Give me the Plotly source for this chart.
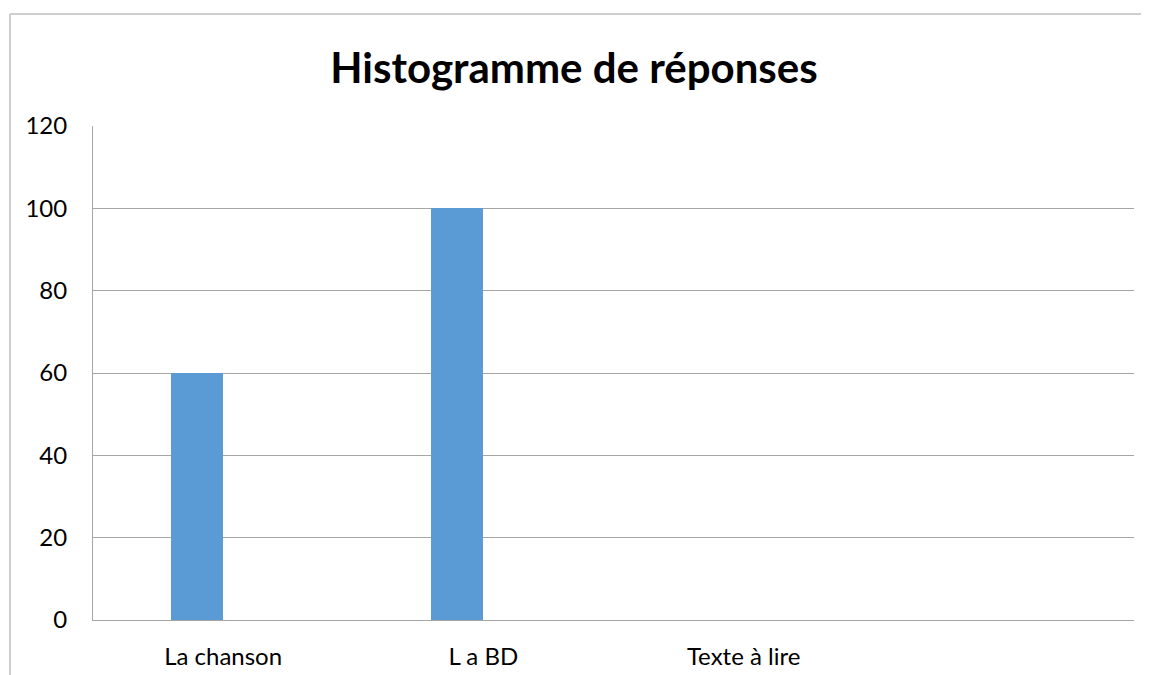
import plotly.graph_objects as go

categories = ["La chanson", "L a BD", "Texte à lire", " "]
values = [60, 100, 0, 0]
y_ticks = [0, 20, 40, 60, 80, 100, 120]

OFF = 8  # page body margin
W, H = 1149 - OFF, 675 - OFF
ml, mt = 93 - OFF, 126 - OFF
pw, ph = 1041, 494
mr = W - ml - pw
mb = H - mt - ph

def px_x(p):
    return (p - OFF - ml) / pw

def px_y(p):
    return (mt + ph - (p - OFF)) / ph

fig = go.Figure()
fig.add_trace(go.Bar(
    x=categories, y=values,
    width=0.2, offset=-0.2,
    marker=dict(color="#5B9BD5", line=dict(width=0)),
    showlegend=False,
))

border = dict(color="#BFBFBF", width=1.5)
fig.update_layout(
    width=W, height=H,
    margin=dict(l=ml, r=mr, t=mt, b=mb, autoexpand=False),
    paper_bgcolor="white", plot_bgcolor="white",
    font=dict(family="Lato", size=24, color="#000000"),
    title=dict(text="<b>Histogramme de réponses</b>", xref="container",
               x=(574 - OFF) / W, xanchor="center",
               yref="container", y=1 - (68 - OFF) / H, yanchor="middle",
               font=dict(family="Lato", size=42, color="#000000")),
    xaxis=dict(type="category", range=[-0.5, 3.5], showgrid=False,
               showline=True, linecolor="#A6A6A6", linewidth=1,
               ticks="outside", ticklen=15, tickcolor="rgba(0,0,0,0)",
               zeroline=False, automargin=False),
    yaxis=dict(range=[0, 120], tickvals=y_ticks, showgrid=True,
               gridcolor="#A6A6A6", gridwidth=1, showline=True,
               linecolor="#A6A6A6", linewidth=1, zeroline=False,
               ticks="outside", ticklen=20, tickcolor="rgba(0,0,0,0)",
               automargin=False),
    bargap=0,
    shapes=[
        dict(type="line", xref="paper", yref="paper",
             x0=px_x(10), x1=px_x(1149), y0=px_y(14), y1=px_y(14),
             line=border, layer="below"),
        dict(type="line", xref="paper", yref="paper",
             x0=px_x(10), x1=px_x(10), y0=px_y(14), y1=px_y(675),
             line=border, layer="below"),
    ],
)

fig.write_html("out.html")
